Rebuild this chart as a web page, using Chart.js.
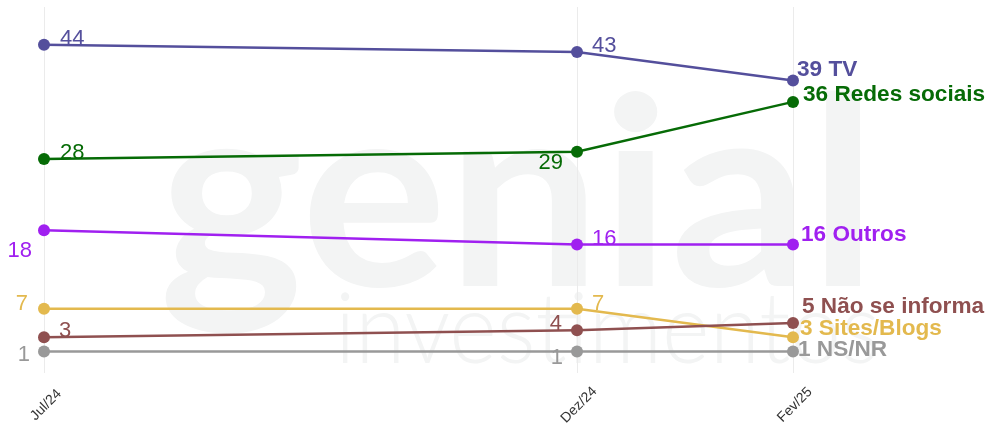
<!DOCTYPE html>
<html>
<head>
<meta charset="utf-8">
<script src="https://cdn.jsdelivr.net/npm/chart.js@4.4.1/dist/chart.umd.min.js"></script>
<style>
  html, body { margin: 0; padding: 0; background: #fff; }
  #wrap { width: 989px; height: 427px; position: relative; }
</style>
</head>
<body>
<div id="wrap"><canvas id="media-chart"></canvas></div>
<script>
// survey waves and their position in days from Jul/24
const months = ['Jul/24', 'Dez/24', 'Fev/25']
const monthDays = [0, 153, 215]

const seriesNames = ['TV', 'Redes sociais', 'Outros', 'Não se informa', 'Sites/Blogs', 'NS/NR']
const tv = [44, 43, 39]
const redesSociais = [28, 29, 36]
const outros = [18, 16, 16]
const naoInforma = [3, 4, 5]
const sitesBlogs = [7, 7, 3]
const nsnr = [1, 1, 1]

const colors = ['#544f9c', '#066b06', '#a020f0', '#8f5050', '#e3b94e', '#999999']

// label offsets [dx, dy] from each point (dx < 0 means right aligned)
const labelOffsets = [
    [[16, 0], [15, 0], [4, -4]],
    [[16, 0], [-14, 17], [10, -1]],
    [[-12, 27], [15, 0], [8, -4]],
    [[15, 0], [-15, 0], [9, -10]],
    [[-16, 1], [15, 1], [7, -2]],
    [[-14, 9], [-14, 12], [5, 4]]
]

const FONT = "'Liberation Sans', Arial, sans-serif"

const watermark = {
    id: 'watermark',
    beforeDraw(chart) {
        const ctx = chart.ctx
        ctx.save()
        ctx.fillStyle = '#f3f4f4'
        ctx.textBaseline = 'alphabetic'
        ctx.textAlign = 'left'
        // big logo word
        ctx.font = "bold 263px Lato, sans-serif"
        let w = ctx.measureText('genial').width
        ctx.save()
        ctx.translate(159, 286)
        ctx.scale(718 / w, 1)
        ctx.fillText('genial', 0, 0)
        ctx.restore()
        // thin subtitle
        ctx.font = "300 99px Lato, sans-serif"
        w = ctx.measureText('investimentos').width
        ctx.save()
        ctx.translate(335, 363)
        ctx.scale(545 / w, 1)
        ctx.fillText('investimentos', 0, 0)
        ctx.restore()
        ctx.restore()
    }
}

const valueLabels = {
    id: 'valueLabels',
    afterDatasetsDraw(chart) {
        const ctx = chart.ctx
        ctx.save()
        ctx.textBaseline = 'alphabetic'
        chart.data.datasets.forEach((ds, i) => {
            const meta = chart.getDatasetMeta(i)
            meta.data.forEach((pt, j) => {
                const last = j === ds.data.length - 1
                const off = labelOffsets[i][j]
                const v = ds.data[j].y
                ctx.fillStyle = colors[i]
                ctx.font = last ? 'bold 22.6px ' + FONT : '22px ' + FONT
                ctx.textAlign = off[0] < 0 ? 'right' : 'left'
                ctx.fillText(last ? v + ' ' + ds.label : String(v), pt.x + off[0], pt.y + off[1])
            })
        })
        ctx.restore()
    }
}

const monthLabels = {
    id: 'monthLabels',
    afterDraw(chart) {
        const ctx = chart.ctx
        const xs = chart.scales.x
        ctx.save()
        ctx.fillStyle = '#333333'
        ctx.font = '14px ' + FONT
        ctx.textAlign = 'center'
        ctx.textBaseline = 'middle'
        months.forEach((m, k) => {
            ctx.save()
            ctx.translate(xs.getPixelForValue(monthDays[k]) + 2, 405)
            ctx.rotate(-Math.PI / 4)
            ctx.fillText(m, 0, 0)
            ctx.restore()
        })
        ctx.restore()
    }
}

document.addEventListener('DOMContentLoaded', () => {
    const allSeries = [tv, redesSociais, outros, naoInforma, sitesBlogs, nsnr]
    const datasets = allSeries.map((vals, i) => ({
        label: seriesNames[i],
        data: vals.map((v, k) => ({ x: monthDays[k], y: v })),
        borderColor: colors[i],
        backgroundColor: colors[i],
        pointBackgroundColor: colors[i],
        borderWidth: 2.5,
        pointRadius: 6,
        pointHoverRadius: 6,
        pointBorderWidth: 0,
        tension: 0,
        clip: false
    }))

    let chart = new Chart(document.querySelector('#media-chart'), {
        type: 'line',
        data: { datasets },
        plugins: [watermark, valueLabels, monthLabels],
        options: {
            responsive: true,
            maintainAspectRatio: false,
            animation: false,
            layout: { padding: { left: 44, right: 196, top: 7, bottom: 54 } },
            plugins: {
                legend: { display: false },
                tooltip: { enabled: false }
            },
            scales: {
                x: {
                    type: 'linear',
                    min: 0,
                    max: 215,
                    afterBuildTicks: s => { s.ticks = monthDays.map(v => ({ value: v })) },
                    afterFit: s => { s.height = 0 },
                    ticks: { display: false },
                    grid: { color: '#ebebeb', lineWidth: 1, drawTicks: false },
                    border: { display: false }
                },
                y: {
                    display: false,
                    min: -2,
                    max: 49.3
                }
            }
        }
    })
})
</script>
</body>
</html>
